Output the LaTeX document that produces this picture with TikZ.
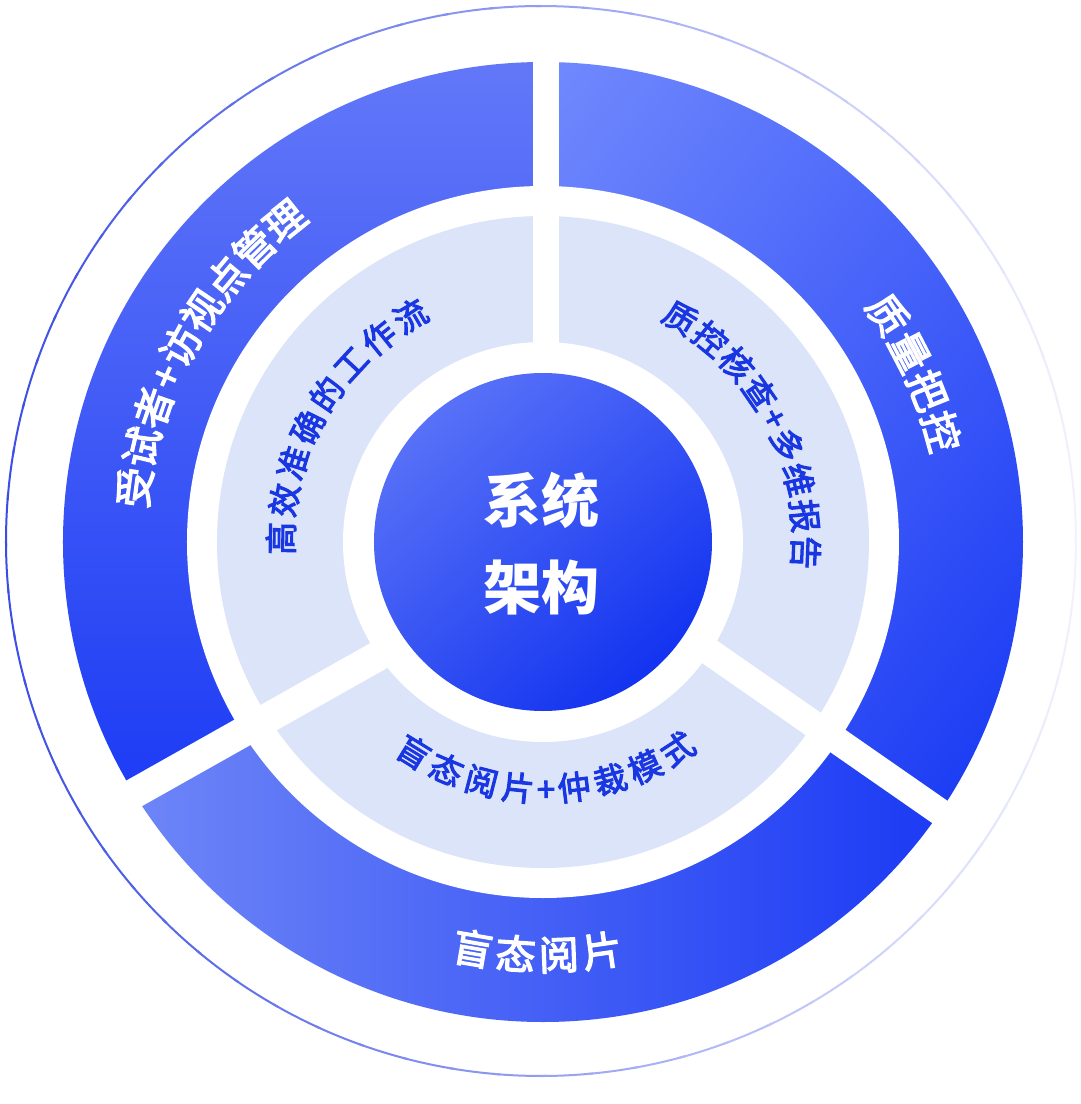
\documentclass[tikz,border=0pt]{standalone}
\usepackage{fontspec}
\usetikzlibrary{shadings}
\newfontfamily\cjk{Noto Sans CJK SC}
\newfontfamily\cjkm[FakeBold=3.2]{Noto Sans CJK SC}
\newfontfamily\cjki[FakeBold=3.0]{Noto Sans CJK SC}
\definecolor{lightring}{HTML}{DCE4FA}
\definecolor{innertxt}{HTML}{1836E2}
\definecolor{thinc}{HTML}{3044E4}
\definecolor{ulTop}{HTML}{6378F8}
\definecolor{ulBot}{HTML}{1535F4}
\definecolor{urUL}{HTML}{728AFD}
\definecolor{urUR}{HTML}{4A66FA}
\definecolor{urLL}{HTML}{3552F6}
\definecolor{urLR}{HTML}{0629F1}
\definecolor{bL}{HTML}{758CF7}
\definecolor{bR}{HTML}{1333F4}
\definecolor{cUL}{HTML}{657DF9}
\definecolor{cUR}{HTML}{3A57F5}
\definecolor{cLL}{HTML}{3350F2}
\definecolor{cLR}{HTML}{0426EE}
\begin{document}
\begin{tikzpicture}[x=1pt,y=1pt,
  outtxt/.style={text=white, font=\cjkm\fontsize{40}{40}\selectfont,
    inner sep=0pt, text height=35pt, text depth=5pt, anchor=center},
  intxt/.style={text=innertxt, font=\cjki\fontsize{33}{33}\selectfont,
    inner sep=0pt, text height=29pt, text depth=4pt, anchor=center},
  ctrtxt/.style={text=white, font=\cjk\bfseries\fontsize{58}{87}\selectfont,
    align=center, inner sep=0pt},
  gap/.style={draw=white, line width=#1},
]
\fill[white] (-543,-562) rectangle (537,542);
\useasboundingbox (-543,-562) rectangle (537,542);

% thin outer circle with fading stroke
\begin{scope}[shift={(-2,1)}]
\foreach \a in {0,5,...,355}{
  \pgfmathsetmacro\f{44*(1+cos(\a+2.5))+5}
  \draw[line width=2pt, draw=white!\f!thinc] (\a:535) arc[start angle=\a, delta angle=5.6, radius=535];
}
\end{scope}

% outer blue segments
\begin{scope}
  \clip (3,700) -- (3,-19.5) -- (-693,-411.4) -- (-800,700) -- cycle;
  \clip (0,0) circle[radius=480];
  \shade[top color=ulTop, bottom color=ulBot] (-485,-330) rectangle (5,485);
\end{scope}
\begin{scope}
  \clip (3,700) -- (3,3.9) -- (659,-452) -- (800,700) -- cycle;
  \clip (0,0) circle[radius=480];
  \shade[upper left=urUL, upper right=urUR, lower left=urLL, lower right=urLR] (0,-480) rectangle (485,485);
\end{scope}
\begin{scope}
  \clip (21.6,-9) -- (-674.4,-401) -- (-674.4,-800) -- (677.6,-800) -- (677.6,-465) -- cycle;
  \clip (0,0) circle[radius=480];
  \shade[left color=bL, right color=bR] (-480,-485) rectangle (480,-100);
\end{scope}

\fill[white] (0,0) circle[radius=356];
\fill[lightring] (0,0) circle[radius=326];

% gaps
\coordinate (gT1) at (3,170);      \coordinate (gT2) at (3,500);
\coordinate (gL1) at (-138.9,-99.3); \coordinate (gL2) at (-426,-261);
\coordinate (gR1) at (142.2,-92.9);  \coordinate (gR2) at (412.8,-281);
\draw[gap=26pt] (gT1) -- (gT2);
\draw[gap=30pt] (gL1) -- (gL2);
\draw[gap=27pt] (gR1) -- (gR2);

\fill[white] (0,0) circle[radius=200];

% central circle
\shade[upper left=cUL, upper right=cUR, lower left=cLL, lower right=cLR] (0,0) circle[radius=169];
\node[ctrtxt] (ctr) at (-1,-1.5) {系统\\架构};

% outer ring texts
\foreach [count=\i] \ch/\a in {受/172.4,试/166.7,者/161.0,+/156.3,访/151.6,视/145.9,点/140.2,管/134.5,理/128.8}
  \node[outtxt, rotate=\a-90] (ulo\i) at (\a:412) {\ch};
\foreach [count=\i] \ch/\a in {质/33.4,量/27.4,把/21.5,控/15.5}
  \node[outtxt, rotate=\a-90] (uro\i) at (\a:413) {\ch};
\foreach [count=\i] \ch/\a in {盲/260.2,态/266.2,阅/272.2,片/278.2}
  \node[outtxt, rotate=\a+90] (bo\i) at (\a:413) {\ch};

% inner ring texts
\foreach [count=\i] \ch/\a in {高/179.2,效/170.8,准/162.4,确/154.0,的/145.6,工/137.2,作/128.8,流/120.4}
  \node[intxt, rotate=\a-90] (uli\i) at (\a:262) {\ch};
\foreach [count=\i] \ch/\a in {质/58.5,控/50.5,核/42.5,查/34.5,+/28.1,多/21.7,维/13.7,报/5.7,告/-2.3}
  \node[intxt, rotate=\a-90] (uri\i) at (\a:263) {\ch};
\foreach [count=\i] \ch/\a in {盲/238.4,态/247.0,阅/255.6,片/264.2,+/270.7,仲/277.2,裁/285.8,模/294.4,式/303.0}
  \node[intxt, rotate=\a+90] (bi\i) at (\a:247) {\ch};
\end{tikzpicture}
\end{document}
